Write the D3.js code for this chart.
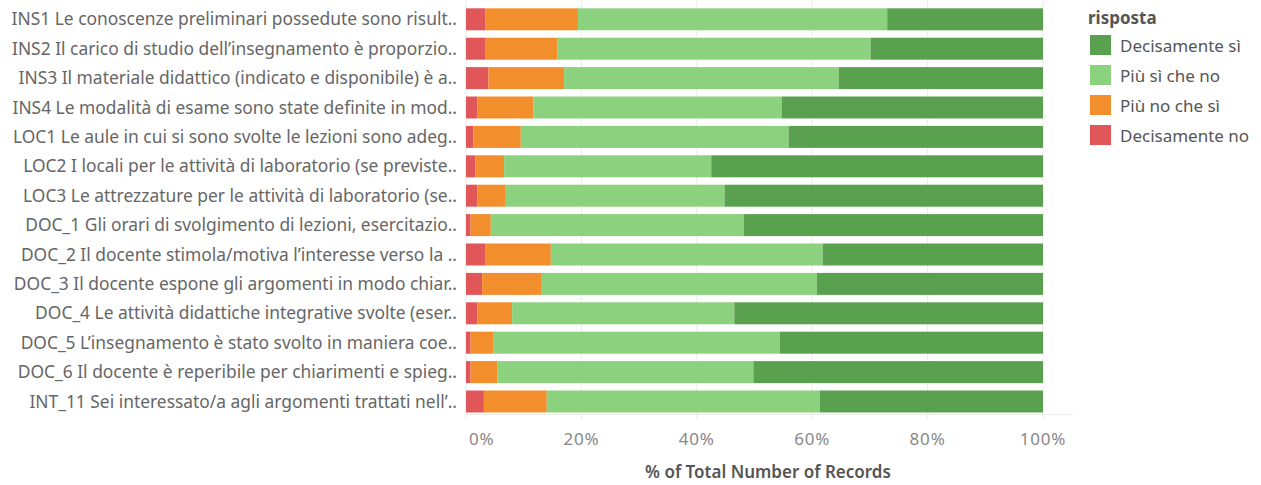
<!DOCTYPE html>
<html>
<head>
<meta charset="utf-8">
<script src="https://cdn.jsdelivr.net/npm/d3@7"></script>
<style>
  html, body { margin: 0; padding: 0; background: #fff; }
  svg { display: block; font-family: "Noto Sans", "DejaVu Sans", sans-serif; }
</style>
</head>
<body>
<svg id="chart" width="1261" height="485"></svg>
<script>
// Survey questions (row labels, top to bottom)
const questions = [
  "INS1 Le conoscenze preliminari possedute sono risult..",
  "INS2 Il carico di studio dell’insegnamento è proporzio..",
  "INS3 Il materiale didattico (indicato e disponibile) è a..",
  "INS4 Le modalità di esame sono state definite in mod..",
  "LOC1 Le aule in cui si sono svolte le lezioni sono adeg..",
  "LOC2 I locali per le attività di laboratorio (se previste..",
  "LOC3 Le attrezzature per le attività di laboratorio (se..",
  "DOC_1 Gli orari di svolgimento di lezioni, esercitazio..",
  "DOC_2 Il docente stimola/motiva l’interesse verso la ..",
  "DOC_3 Il docente espone gli argomenti in modo chiar..",
  "DOC_4 Le attività didattiche integrative svolte (eser..",
  "DOC_5 L’insegnamento è stato svolto in maniera coe..",
  "DOC_6 Il docente è reperibile per chiarimenti e spieg..",
  "INT_11 Sei interessato/a agli argomenti trattati nell’.."
];

// Answer categories, in stacking order (left to right)
const answers = ["Decisamente no", "Più no che sì", "Più sì che no", "Decisamente sì"];
// Legend order (top to bottom)
const legendOrder = ["Decisamente sì", "Più sì che no", "Più no che sì", "Decisamente no"];

// Percent of total records per answer, one value per question
const decisamenteNo = [3.4, 3.3, 3.9, 2.0, 1.3, 1.6, 2.0, 0.8, 3.3, 2.8, 2.0, 0.8, 0.8, 3.1];
const piuNoCheSi    = [16.0, 12.5, 13.1, 9.7, 8.2, 5.0, 4.9, 3.5, 11.4, 10.2, 6.0, 4.0, 4.6, 10.9];
const piuSiCheNo    = [53.6, 54.3, 47.6, 43.0, 46.4, 35.9, 37.9, 43.8, 47.1, 47.8, 38.5, 49.6, 44.4, 47.3];
const decisamenteSi = [27.0, 29.9, 35.4, 45.3, 44.1, 57.5, 55.2, 51.9, 38.2, 39.2, 53.5, 45.6, 50.2, 38.7];

const xTicks = [0, 20, 40, 60, 80, 100];

const colors = {
  "Decisamente sì": "#59a14f",
  "Più sì che no": "#8cd17d",
  "Più no che sì": "#f28e2b",
  "Decisamente no": "#e15759"
};

const rows = questions.map((q, i) => ({
  question: q,
  "Decisamente no": decisamenteNo[i],
  "Più no che sì": piuNoCheSi[i],
  "Più sì che no": piuSiCheNo[i],
  "Decisamente sì": decisamenteSi[i]
}));

const svg = d3.select("#chart");

const x = d3.scaleLinear().domain([0, 100]).range([466, 1043]);
const y = d3.scaleBand().domain(questions).range([4.6, 416.2]).paddingInner(0.252).paddingOuter(0.126);

// Vertical gridlines
svg.append("g").selectAll("line").data(xTicks).join("line")
  .attr("x1", d => x(d)).attr("x2", d => x(d))
  .attr("y1", 0).attr("y2", 419)
  .attr("stroke", "#ececec").attr("stroke-width", 1);

// Bottom axis rule
svg.append("line")
  .attr("x1", x(0)).attr("x2", 1073)
  .attr("y1", 414.5).attr("y2", 414.5)
  .attr("stroke", "#ececec").attr("stroke-width", 1);

// Stacked bars
const stack = d3.stack().keys(answers)(rows);
svg.append("g").selectAll("g").data(stack).join("g")
  .attr("fill", s => colors[s.key])
  .selectAll("rect").data(s => s).join("rect")
  .attr("x", d => x(d[0]))
  .attr("width", d => x(d[1]) - x(d[0]))
  .attr("y", d => y(d.data.question))
  .attr("height", y.bandwidth());

// Row labels
svg.append("g").selectAll("text").data(questions).join("text")
  .attr("x", 457)
  .attr("y", d => y(d) + y.bandwidth() / 2)
  .attr("dy", "0.35em")
  .attr("text-anchor", "end")
  .attr("font-size", 17.4)
  .attr("fill", "#666")
  .text(d => d);

// X tick labels
svg.append("g").selectAll("text").data(xTicks).join("text")
  .attr("x", d => d === 0 ? x(d) + 3 : x(d))
  .attr("y", 445)
  .attr("text-anchor", d => d === 0 ? "start" : "middle")
  .attr("font-size", 17)
  .attr("letter-spacing", 0.8)
  .attr("fill", "#888")
  .text(d => d + "%");

// X axis title
svg.append("text")
  .attr("x", 768)
  .attr("y", 478)
  .attr("text-anchor", "middle")
  .attr("font-size", 17)
  .attr("font-weight", 600)
  .attr("fill", "#555")
  .text("% of Total Number of Records");

// Legend
const legend = svg.append("g");
legend.append("text")
  .attr("x", 1088).attr("y", 24)
  .attr("font-size", 17).attr("font-weight", 700).attr("fill", "#555")
  .text("risposta");
const items = legend.selectAll("g.item").data(legendOrder).join("g")
  .attr("class", "item")
  .attr("transform", (d, i) => `translate(0,${35 + i * 30})`);
items.append("rect")
  .attr("x", 1090).attr("y", 0).attr("width", 21).attr("height", 20)
  .attr("fill", d => colors[d]);
items.append("text")
  .attr("x", 1120).attr("y", 11).attr("dy", "0.35em")
  .attr("font-size", 17).attr("fill", "#555")
  .text(d => d);
</script>
</body>
</html>
